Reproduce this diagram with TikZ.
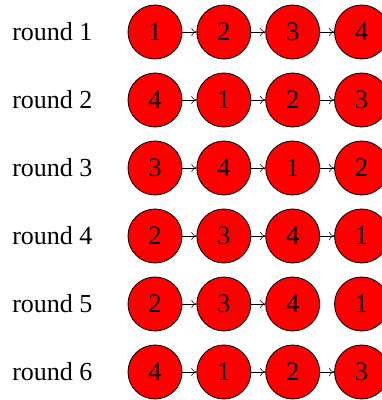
\documentclass[tikz,border=0pt]{standalone}
\usepackage{fontspec}
\setmainfont{Liberation Serif}
\usetikzlibrary{arrows.meta,positioning}
\tikzset{player/.style={circle,draw=black,fill=red,minimum size=13.5mm,
  inner sep=0pt,line width=0.6pt,font=\fontsize{19}{21}\selectfont},
  pass/.style={-{To[length=1.3mm,width=2mm]},draw=black,line width=0.4pt},
  rlabel/.style={anchor=west,inner sep=0pt,font=\fontsize{18.5}{20}\selectfont}}

\begin{document}
\begin{tikzpicture}[x=1mm,y=1mm]
 \useasboundingbox (0,0) rectangle (95.25,-100);
 \foreach \r/\a/\b/\c/\d in {1/1/2/3/4,2/4/1/2/3,3/3/4/1/2,4/2/3/4/1,5/2/3/4/1,6/4/1/2/3} {
  \node[rlabel] (l\r) at (3,{-8-17*(\r-1)}) {round \r};
  \node[player] (a\r) at (38.75,{-8-17*(\r-1)}) {\a};
  \node[player,right=3.5mm of a\r] (b\r) {\b};
  \node[player,right=3.5mm of b\r] (c\r) {\c};
  \node[player,right=3.5mm of c\r] (d\r) {\d};
  \draw[pass] (a\r)--(b\r);\draw[pass] (b\r)--(c\r);
  \ifnum\r=5\else\draw[pass] (c\r)--(d\r);\fi
 }
\end{tikzpicture}
\end{document}
